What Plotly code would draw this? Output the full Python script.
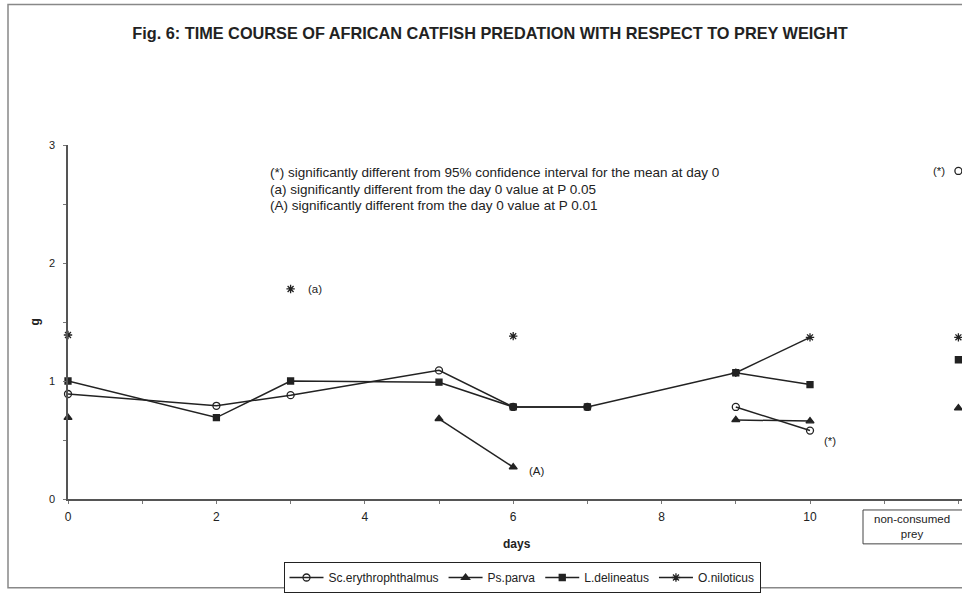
import plotly.graph_objects as go

# Sampling days and mean prey weight (g) per species; None = no sample
days = [0, 2, 3, 5, 6, 7, 8, 9, 10]
sc_erythrophthalmus = [0.89, 0.79, 0.88, 1.09, 0.78, 0.78, None, 0.78, 0.58]
ps_parva = [0.69, None, None, 0.68, 0.27, None, None, 0.67, 0.66]
l_delineatus = [1.00, 0.69, 1.00, 0.99, 0.78, 0.78, None, 1.07, 0.97]
o_niloticus = [1.39, None, 1.78, None, 1.38, None, None, 1.07, 1.37]

# Weight of prey left uneaten, plotted in its own column after day 10
nonconsumed_pos = 12
nonconsumed = {
    "Sc.erythrophthalmus": 2.78,
    "Ps.parva": 0.77,
    "L.delineatus": 1.18,
    "O.niloticus": 1.37,
}

x_tick_vals = [0, 2, 4, 6, 8, 10]
y_tick_vals = [0, 1, 2, 3]

notes = [
    "(*) significantly different from 95% confidence interval for the mean at day 0",
    "(a) significantly different from the day 0 value at P 0.05",
    "(A) significantly different from the day 0 value at P 0.01",
]

INK = "#222222"
FONT = "Liberation Sans, Arial, sans-serif"

# Plot-area geometry in pixels
W, H = 962, 593
L, R, T, B = 68, 0, 145, 93
PW, PH = W - L - R, H - T - B


def px(xp):
    return (xp - L) / PW


def py(yp):
    return (H - B - yp) / PH


series = [
    ("Sc.erythrophthalmus", sc_erythrophthalmus, "circle-open", 7, False),
    ("Ps.parva", ps_parva, "triangle-up", 7, False),
    ("L.delineatus", l_delineatus, "square", 6, True),
    ("O.niloticus", o_niloticus, "asterisk-open", 7, False),
]

fig = go.Figure()
for name, vals, sym, size, connect in series:
    fig.add_trace(go.Scatter(
        x=days, y=vals, name=name, mode="lines+markers",
        connectgaps=connect, cliponaxis=False,
        line=dict(color=INK, width=1.5),
        marker=dict(symbol=sym, size=size, color=INK,
                    line=dict(color=INK, width=1.3)),
    ))

for name, vals, sym, size, connect in series:
    fig.add_trace(go.Scatter(
        x=[nonconsumed_pos], y=[nonconsumed[name]], mode="markers",
        showlegend=False, cliponaxis=True,
        marker=dict(symbol=sym, size=size, color=INK,
                    line=dict(color=INK, width=1.3)),
    ))

x_right = (W - L) / ((810 - L) / 10)

fig.update_layout(
    width=W, height=H,
    margin=dict(l=L, r=R, t=T, b=B),
    paper_bgcolor="white", plot_bgcolor="white",
    font=dict(family=FONT, size=11, color=INK),
    title=dict(
        text="<b>Fig. 6: TIME COURSE OF AFRICAN CATFISH PREDATION WITH RESPECT TO PREY WEIGHT</b>",
        x=(490 / W), xanchor="center", y=1 - 33 / H, yanchor="middle",
        font=dict(size=16.3, color=INK, family=FONT),
    ),
    xaxis=dict(
        range=[0, x_right], showgrid=False, zeroline=False,
        showline=True, linecolor="#555555", linewidth=1.5,
        tickmode="array", tickvals=x_tick_vals,
        ticks="outside", ticklen=3, tickcolor="#777777",
        minor=dict(dtick=1, ticks="outside", ticklen=3, tickcolor="#777777"),
        tickfont=dict(size=12, color=INK),
        ticklabelstandoff=3,
    ),
    yaxis=dict(
        range=[0, 3], showgrid=False, zeroline=False,
        showline=True, linecolor="#555555", linewidth=1.5,
        tickmode="array", tickvals=y_tick_vals,
        ticks="outside", ticklen=3, tickcolor="#777777",
        minor=dict(dtick=0.5, ticks="outside", ticklen=3, tickcolor="#777777"),
        tickfont=dict(size=11, color=INK),
        ticklabelstandoff=6,
    ),
    legend=dict(
        orientation="h", x=px(522), xanchor="center",
        y=py(579), yanchor="middle",
        bordercolor=INK, borderwidth=1, bgcolor="white",
        font=dict(size=12, color=INK), itemwidth=34,
        tracegroupgap=0,
    ),
    showlegend=True,
)

# Footnote block explaining significance marks
for i, line in enumerate(notes):
    fig.add_annotation(
        x=px(268), y=py(173 + i * 16.5), xref="paper", yref="paper",
        text=line, showarrow=False, xanchor="left", yanchor="middle",
        font=dict(size=13.5, color=INK),
    )

# Significance marks next to points
marks = [
    ("(a)", 3, o_niloticus[2], 24, 0),
    ("(A)", 6, ps_parva[4], 24, -4),
    ("(*)", 10, sc_erythrophthalmus[8], 20, -10),
    ("(*)", nonconsumed_pos, nonconsumed["Sc.erythrophthalmus"], -19, 0),
]
for txt, xv, yv, dx, dy in marks:
    fig.add_annotation(
        x=xv, y=yv, text=txt, showarrow=False, xshift=dx, yshift=dy,
        xanchor="center", yanchor="middle",
        font=dict(size=11.5, color=INK),
    )

# Axis titles
fig.add_annotation(x=px(517), y=py(545), xref="paper", yref="paper",
                   text="<b>days</b>", showarrow=False,
                   xanchor="center", yanchor="middle",
                   font=dict(size=12, color=INK))
fig.add_annotation(x=px(35), y=py(323), xref="paper", yref="paper",
                   text="<b>g</b>", showarrow=False, textangle=-90,
                   xanchor="center", yanchor="middle",
                   font=dict(size=12, color=INK))

# Label box for the non-consumed column
fig.add_annotation(x=px(912), y=py(528), xref="paper", yref="paper",
                   text="non-consumed<br>prey", showarrow=False,
                   xanchor="center", yanchor="middle",
                   font=dict(size=11.5, color=INK))
box = dict(type="line", xref="paper", yref="paper",
           line=dict(color="#444444", width=1))
fig.add_shape(**box, x0=px(863), x1=px(970), y0=py(511), y1=py(511))
fig.add_shape(**box, x0=px(863), x1=px(970), y0=py(545), y1=py(545))
fig.add_shape(**box, x0=px(863), x1=px(863), y0=py(511), y1=py(545))

# Outer frame around the whole figure
fig.add_shape(type="rect", xref="paper", yref="paper",
              x0=px(8), x1=px(975), y0=py(589), y1=py(4),
              line=dict(color="#888888", width=1.5), layer="below")

fig.write_html("out.html")
